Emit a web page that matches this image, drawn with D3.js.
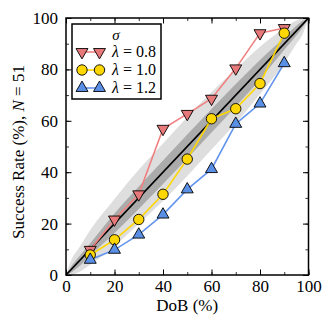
<!DOCTYPE html>
<html>
<head>
<meta charset="utf-8">
<script src="https://cdn.jsdelivr.net/npm/d3@7"></script>
<style>
  body { margin: 0; background: #fff; }
  svg { display: block; }
  text { font-family: "Liberation Serif", "DejaVu Serif", serif; fill: #000; }
</style>
</head>
<body>
<div id="chart"></div>
<script>
// data
const dob = [10, 20, 30, 40, 50, 60, 70, 80, 90];
const rate08 = [9.8, 21.6, 31.4, 56.9, 62.7, 68.6, 80.4, 94.1, 96.1];
const rate10 = [7.8, 13.7, 21.6, 31.4, 45.1, 60.8, 64.7, 74.5, 94.1];
const rate12 = [5.9, 9.8, 15.7, 23.5, 33.3, 41.2, 58.8, 66.7, 82.4];
const lambdas = ["0.8", "1.0", "1.2"];
const ticks = [0, 20, 40, 60, 80, 100];

// grey bands (outer and inner), sampled along the DoB axis
const bandX = [0, 2.5, 5, 10, 20, 30, 40, 50, 60, 70, 80, 90, 95, 97.5, 100];
const outerLo = [0, 0.2, 1.0, 4.0, 11.2, 19.9, 28.8, 38.5, 48.8, 59.0, 70.4, 82.5, 90.0, 93.5, 100];
const outerHi = [0, 6.5, 10.0, 17.5, 29.6, 41.0, 51.2, 61.5, 71.2, 80.1, 88.8, 96.0, 99.0, 99.8, 100];
const innerLo = [0, 1.2, 3.0, 7.6, 16.3, 25.7, 35.4, 45.3, 55.4, 65.6, 76.1, 87.6, 93.2, 96.2, 100];
const innerHi = [0, 3.8, 6.8, 12.4, 23.9, 34.4, 44.6, 54.7, 64.6, 74.3, 83.7, 92.4, 97.0, 98.8, 100];

const W = 332, H = 332;
const margin = {left: 66, right: 23.5, top: 18, bottom: 57};
const font = '"Liberation Serif", "DejaVu Serif", serif';

const svg = d3.select('#chart').append('svg')
  .attr('width', W).attr('height', H);

const x = d3.scaleLinear().domain([0, 100]).range([margin.left, W - margin.right]);
const y = d3.scaleLinear().domain([0, 100]).range([H - margin.bottom, margin.top]);

svg.append('clipPath').attr('id', 'clip').append('rect')
  .attr('x', x(0)).attr('y', y(100))
  .attr('width', x(100) - x(0)).attr('height', y(0) - y(100));

const plot = svg.append('g').attr('clip-path', 'url(#clip)');

const band = (lo, hi) => d3.area()
  .x((d, i) => x(bandX[i]))
  .y0((d, i) => y(lo[i]))
  .y1((d, i) => y(hi[i]))
  .curve(d3.curveMonotoneX)(bandX);

plot.append('path').attr('d', band(outerLo, outerHi)).attr('fill', '#dedede');
plot.append('path').attr('d', band(innerLo, innerHi)).attr('fill', '#ababab');

plot.append('line')
  .attr('x1', x(0)).attr('y1', y(0))
  .attr('x2', x(100)).attr('y2', y(100))
  .attr('stroke', '#000').attr('stroke-width', 1.6);

const series = [
  {vals: rate08, color: '#f08080', fill: '#e8797b', shape: 'down'},
  {vals: rate10, color: '#ffd700', fill: '#ffd700', shape: 'circle'},
  {vals: rate12, color: '#6495ed', fill: '#5a8fe6', shape: 'up'}
];

const markerPath = shape => shape === 'circle'
  ? d3.symbol(d3.symbolCircle, 85)()
  : d3.symbol(d3.symbolTriangle, 62)();

function drawMarker(g, s, cx, cy) {
  g.append('path')
    .attr('d', markerPath(s.shape))
    .attr('transform', `translate(${cx},${cy})` + (s.shape === 'down' ? ' rotate(180)' : ''))
    .attr('fill', s.fill)
    .attr('stroke', '#000')
    .attr('stroke-width', 0.9);
}

const line = d3.line().x((d, i) => x(dob[i])).y(d => y(d));

series.forEach(s => {
  plot.append('path')
    .attr('d', line(s.vals))
    .attr('fill', 'none')
    .attr('stroke', s.color)
    .attr('stroke-width', 1.6);
});
series.forEach(s => {
  s.vals.forEach((v, i) => drawMarker(svg, s, x(dob[i]), y(v)));
});

// axes with inward ticks on all four sides
const minor = d3.range(0, 101, 10);
const axes = [
  {ax: d3.axisBottom(x), tr: `translate(0,${y(0)})`, labels: true, pad: 5},
  {ax: d3.axisTop(x), tr: `translate(0,${y(100)})`, labels: false, pad: 0},
  {ax: d3.axisLeft(y), tr: `translate(${x(0)},0)`, labels: true, pad: 8},
  {ax: d3.axisRight(y), tr: `translate(${x(100)},0)`, labels: false, pad: 0}
];
axes.forEach(a => {
  const gMinor = svg.append('g').attr('transform', a.tr)
    .call(a.ax.tickValues(minor).tickSize(-3).tickFormat(''));
  gMinor.select('.domain').remove();
  gMinor.selectAll('line').attr('stroke', '#000').attr('stroke-width', 0.8);
  const g = svg.append('g').attr('transform', a.tr)
    .call(a.ax.tickValues(ticks).tickSize(-5.5).tickPadding(a.pad)
      .tickFormat(a.labels ? d => d : ''));
  g.select('.domain').remove();
  g.selectAll('line').attr('stroke', '#000').attr('stroke-width', 1);
  g.selectAll('text').style('font-size', '17px').style('font-family', font);
});

svg.append('rect')
  .attr('x', x(0)).attr('y', y(100))
  .attr('width', x(100) - x(0)).attr('height', y(0) - y(100))
  .attr('fill', 'none').attr('stroke', '#000').attr('stroke-width', 1.5);

// axis titles
svg.append('text')
  .attr('x', (x(0) + x(100)) / 2).attr('y', 311)
  .attr('text-anchor', 'middle').style('font-size', '17px')
  .text('DoB (%)');

const yt = svg.append('text')
  .attr('transform', `translate(24,152) rotate(-90)`)
  .attr('text-anchor', 'middle').style('font-size', '17px');
yt.append('tspan').text('Success Rate (%), ');
yt.append('tspan').style('font-style', 'italic').text('N');
yt.append('tspan').text(' = 51');

// legend
const leg = svg.append('g');
leg.append('rect')
  .attr('x', 72).attr('y', 24).attr('width', 89).attr('height', 75)
  .attr('fill', '#fff').attr('stroke', '#000').attr('stroke-width', 1.5);
leg.append('text')
  .attr('x', 116).attr('y', 40).attr('text-anchor', 'middle')
  .style('font-size', '15px').style('font-style', 'italic').text('σ');
series.forEach((s, i) => {
  const ly = 52 + i * 18;
  leg.append('line')
    .attr('x1', 82).attr('x2', 99.5).attr('y1', ly).attr('y2', ly)
    .attr('stroke', s.color).attr('stroke-width', 1.6);
  drawMarker(leg, s, 82, ly);
  drawMarker(leg, s, 99.5, ly);
  const t = leg.append('text').attr('x', 112).attr('y', ly + 5).style('font-size', '16px');
  t.append('tspan').style('font-style', 'italic').text('λ');
  t.append('tspan').text(' = ' + lambdas[i]);
});
</script>
</body>
</html>
